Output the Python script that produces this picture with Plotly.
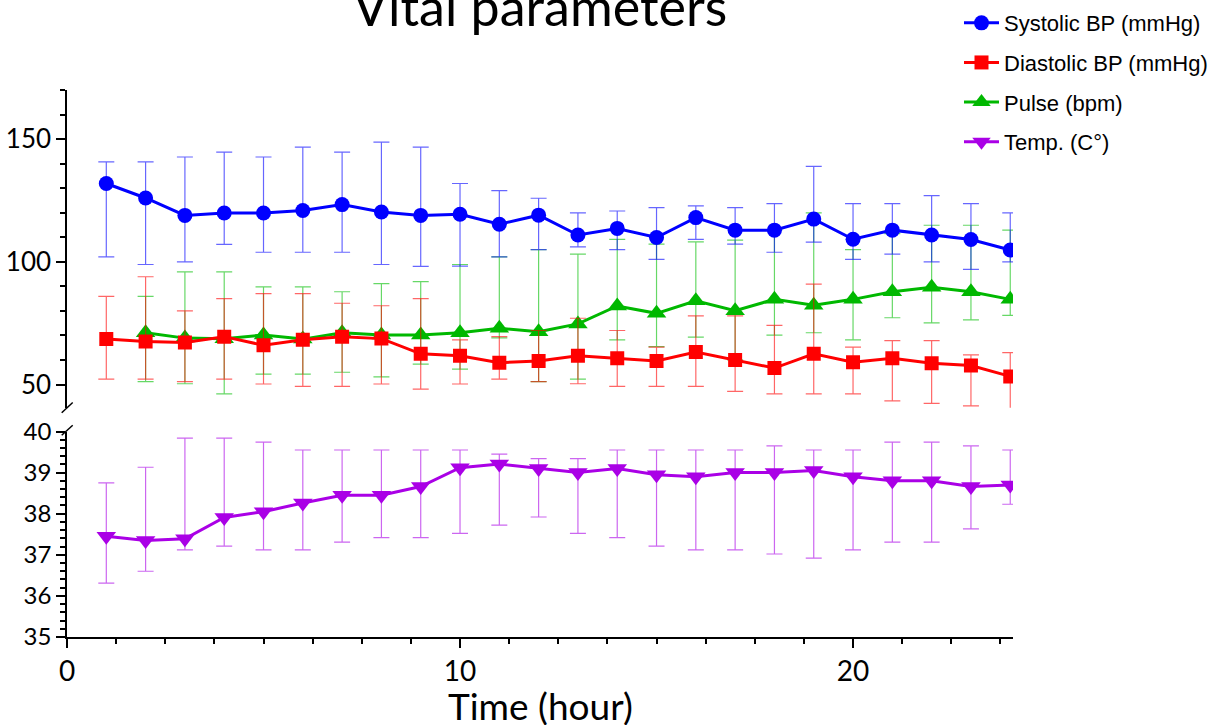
import plotly.graph_objects as go

# ---------------- data ----------------
hours = list(range(1, 25))

sys_mean = [131.9, 126.0, 118.9, 119.9, 119.9, 120.9, 123.3, 120.3, 118.9, 119.4, 115.3, 119.0,
            110.9, 113.6, 109.9, 118.0, 112.9, 112.9, 117.4, 109.2, 112.9, 110.9, 109.1, 104.8]
sys_hi = [140.7, 140.7, 142.7, 144.7, 142.7, 146.7, 144.7, 148.8, 146.7, 131.9, 129.0, 125.9,
          119.9, 120.7, 122.1, 122.8, 122.1, 123.7, 138.9, 123.7, 123.7, 127.0, 123.7, 119.9]
sys_lo = [102.0, 98.9, 100.0, 107.1, 103.9, 103.9, 103.9, 98.9, 98.1, 98.2, 102.0, 105.0,
          106.1, 105.0, 101.0, 109.1, 107.2, 103.9, 108.0, 101.0, 103.1, 100.0, 96.9, 100.0]

dia_mean = [68.5, 67.5, 67.1, 69.5, 66.0, 68.2, 69.5, 68.7, 62.5, 61.7, 58.9, 59.6,
            61.7, 60.7, 59.6, 63.2, 60.0, 56.7, 62.5, 59.1, 60.7, 58.7, 57.7, 53.3]
dia_hi = [85.9, 93.9, 80.0, 85.0, 87.0, 87.0, 83.1, 82.1, 85.0, 68.2, 69.5, 72.0,
          77.0, 72.0, 65.2, 78.0, 78.0, 74.1, 90.9, 65.2, 67.9, 67.9, 62.1, 63.0]
dia_lo = [52.2, 52.2, 51.2, 52.2, 50.2, 49.2, 49.2, 50.2, 48.1, 50.2, 52.2, 51.2,
          50.3, 49.2, 49.2, 49.2, 47.2, 46.2, 46.2, 46.2, 43.3, 42.3, 41.3, 31.6]

pulse_hours = list(range(2, 25))
pulse_mean = [71.1, 68.9, 68.6, 70.2, 68.5, 71.1, 70.2, 70.2, 71.1, 72.9, 71.5, 74.7,
              82.0, 79.0, 84.1, 80.1, 84.7, 82.3, 84.7, 87.8, 89.6, 87.8, 84.7]
pulse_hi = [85.9, 95.9, 95.9, 89.8, 89.8, 87.8, 91.1, 91.9, 98.9, 102.0, 104.9, 103.1,
            109.1, 107.2, 108.1, 108.8, 113.0, 119.9, 105.0, 111.5, 114.9, 114.9, 112.9]
pulse_lo = [51.2, 50.3, 46.2, 54.2, 54.2, 55.0, 53.1, 58.3, 56.3, 69.0, 51.2, 52.2,
            68.2, 65.4, 69.3, 60.0, 70.1, 71.1, 68.2, 77.2, 75.1, 76.3, 78.2]

temp_mean = [37.45, 37.35, 37.39, 37.91, 38.05, 38.26, 38.45, 38.45, 38.66, 39.12, 39.21, 39.10,
             39.00, 39.10, 38.95, 38.90, 39.00, 39.00, 39.05, 38.90, 38.80, 38.80, 38.66, 38.70]
temp_hi = [38.75, 39.13, 39.84, 39.84, 39.74, 39.55, 39.55, 39.55, 39.55, 39.55, 39.45, 39.34,
           39.34, 39.55, 39.55, 39.55, 39.55, 39.65, 39.55, 39.55, 39.74, 39.74, 39.65, 39.55]
temp_lo = [36.31, 36.60, 37.12, 37.21, 37.12, 37.12, 37.31, 37.42, 37.42, 37.52, 37.72, 37.92,
           37.52, 37.42, 37.21, 37.12, 37.12, 37.02, 36.92, 37.12, 37.31, 37.31, 37.63, 38.23]

names = ["Systolic BP (mmHg)", "Diastolic BP (mmHg)", "Pulse (bpm)", "Temp. (C°)"]
title_text = "Vital parameters"
x_title = "Time (hour)"

# ---------------- styling ----------------
AX_FONT = "Lato"
LEG_FONT = "Liberation Sans, Arial"
W, H = 1217, 725
L, R, T, B = 67, 1013, 90, 637.3


def trace(x, m, hi, lo, name, color, ecolor, symbol, size, rank, xa, ya):
    return go.Scatter(
        x=x, y=m, name=name, mode="lines+markers",
        line=dict(color=color, width=3),
        marker=dict(color=color, symbol=symbol, size=size),
        error_y=dict(type="data", symmetric=False,
                     array=[h - v for h, v in zip(hi, m)],
                     arrayminus=[v - l for v, l in zip(m, lo)],
                     color=ecolor, thickness=1.2, width=8),
        legendrank=rank, legendgroup=name, xaxis=xa, yaxis=ya,
    )


fig = go.Figure()
fig.add_trace(trace(pulse_hours, pulse_mean, pulse_hi, pulse_lo, names[2], "#00B800",
                    "rgba(0,190,0,0.6)", "triangle-up", 17, 3, "x2", "y2"))
fig.add_trace(trace(hours, sys_mean, sys_hi, sys_lo, names[0], "#0000FF",
                    "rgba(0,0,255,0.6)", "circle", 15, 1, "x2", "y2"))
fig.add_trace(trace(hours, dia_mean, dia_hi, dia_lo, names[1], "#FF0000",
                    "rgba(255,0,0,0.6)", "square", 14, 2, "x2", "y2"))
fig.add_trace(trace(hours, temp_mean, temp_hi, temp_lo, names[3], "#AA00E6",
                    "rgba(170,0,230,0.6)", "triangle-down", 17, 4, "x", "y"))

plot_h = B - T
top_dom0 = (B - 408) / plot_h
bot_dom1 = (B - 431.7) / plot_h

axis_common = dict(showline=True, linecolor="black", linewidth=1.5, showgrid=False,
                   zeroline=False, ticks="outside", tickcolor="black", tickwidth=1.5,
                   ticklen=9)

fig.update_layout(
    width=W, height=H,
    margin=dict(l=L, r=W - R, t=T, b=H - B, autoexpand=False),
    paper_bgcolor="white", plot_bgcolor="white",
    title=dict(text=title_text, x=(L + R) / 2 / W, xanchor="center",
               y=1 - 8 / H, yanchor="middle",
               font=dict(family=AX_FONT, size=52, color="black")),
    showlegend=True,
    legend=dict(x=(959 - L) / (R - L), xanchor="left", y=1 + (T - 2) / plot_h, yanchor="top",
                font=dict(family=LEG_FONT, size=22, color="black"),
                tracegroupgap=8, bgcolor="rgba(0,0,0,0)", itemwidth=35),
    xaxis=dict(**axis_common, domain=[0, 1], range=[0, 24.07], anchor="y",
               tick0=0, dtick=10,
               tickfont=dict(family=AX_FONT, size=28, color="black"),
               minor=dict(dtick=1.25, tick0=0, ticks="outside", ticklen=5,
                          tickcolor="black", tickwidth=1.5)),
    xaxis2=dict(domain=[0, 1], range=[0, 24.07], anchor="y2", matches="x",
                visible=False, showgrid=False, zeroline=False),
    yaxis=dict(**axis_common, domain=[0, bot_dom1], range=[35, 40], anchor="x",
               tick0=35, dtick=1,
               tickfont=dict(family=AX_FONT, size=24, color="black"),
               minor=dict(dtick=0.2, tick0=35, ticks="outside", ticklen=5,
                          tickcolor="black", tickwidth=1.5)),
    yaxis2=dict(**axis_common, domain=[top_dom0, 1], range=[40.5, 170], anchor="x2",
                tick0=0, dtick=50,
                tickfont=dict(family=AX_FONT, size=26, color="black"),
                minor=dict(dtick=10, tick0=0, ticks="outside", ticklen=5,
                           tickcolor="black", tickwidth=1.5)),
)

# x-axis title placed as an annotation so it can sit as low as in the reference
fig.add_annotation(text=x_title, xref="paper", yref="paper", x=0.5,
                   y=(B - 706) / plot_h, yanchor="middle", xanchor="center",
                   showarrow=False, font=dict(family=AX_FONT, size=37, color="black"))


def px2paper(px, py):
    return (px - L) / (R - L), (B - py) / plot_h


# axis-break marks
for (xa, ya, xb, yb) in [(61.7, 413, 72.7, 402.7), (61.7, 435.5, 72.7, 425.5)]:
    x0, y0 = px2paper(xa, ya)
    x1, y1 = px2paper(xb, yb)
    fig.add_shape(type="line", xref="paper", yref="paper", x0=x0, y0=y0, x1=x1, y1=y1,
                  line=dict(color="black", width=1.5))

fig.write_html("out.html", config={"displayModeBar": False},
               post_script="document.body.style.margin='0';")
